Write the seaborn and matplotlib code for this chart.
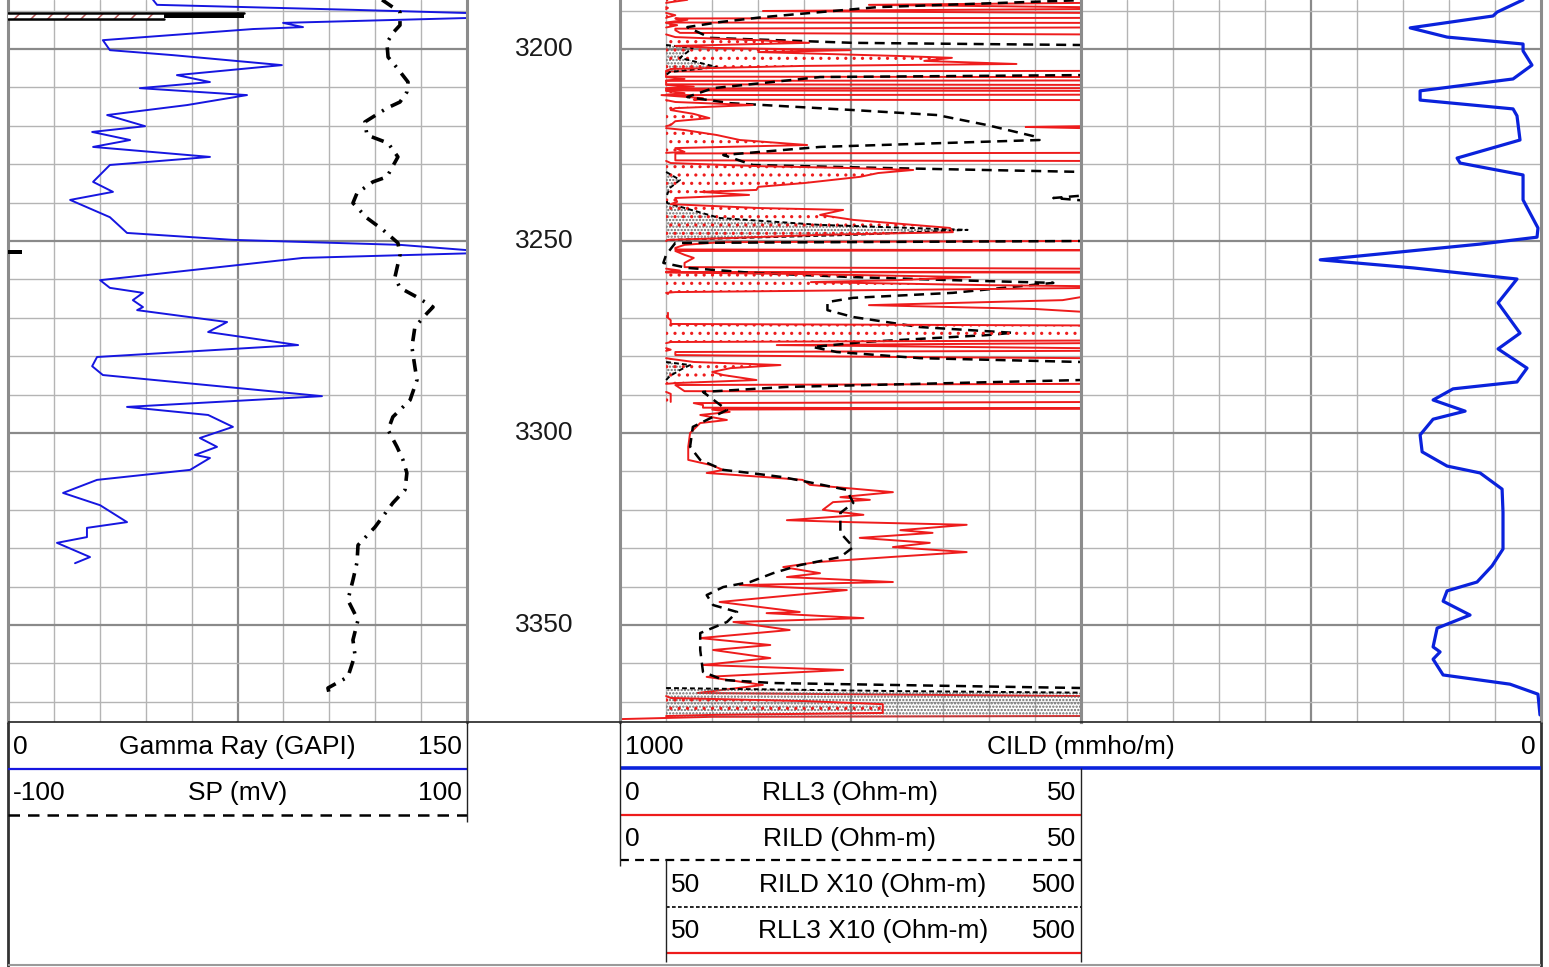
import numpy as np
import matplotlib
matplotlib.use("Agg")
import matplotlib.pyplot as plt
import seaborn as sns

# ---------------------------------------------------------------- log data
depth_labels = [3200, 3250, 3300, 3350]

gr_depth = [3187.2, 3188.5, 3189.8, 3191.3, 3193.2, 3194.3, 3194.8, 3197.7, 3200.3, 3201.6,
            3204.2, 3206.8, 3208.6, 3210.2, 3212.0, 3214.6, 3217.2, 3220.1, 3221.6, 3223.7,
            3225.5, 3228.1, 3230.2, 3234.6, 3237.2, 3239.3, 3243.8, 3247.9, 3249.7, 3251.0,
            3253.0, 3254.4, 3260.2, 3262.2, 3263.5, 3265.4, 3267.2, 3268.0, 3271.1, 3273.7,
            3277.1, 3280.2, 3282.6, 3284.9, 3290.4, 3293.2, 3295.3, 3298.4, 3301.3, 3303.6,
            3305.7, 3306.5, 3309.6, 3312.2, 3315.6, 3318.8, 3323.2, 3324.7, 3327.1, 3328.6,
            3332.3, 3333.9]
gr = [47.4, 48.7, 112.7, 180.0, 89.9, 96.4, 80.1, 31.0, 33.3, 53.9,
      89.5, 55.2, 66.0, 43.1, 78.1, 58.5, 32.4, 44.8, 27.5, 39.9,
      27.8, 66.0, 33.3, 27.8, 34.3, 20.3, 33.3, 38.9, 73.5, 128.1,
      160.0, 96.4, 30.1, 33.3, 44.1, 40.8, 44.1, 42.2, 71.6, 65.4,
      94.8, 29.1, 27.5, 31.0, 102.6, 38.9, 65.4, 73.5, 62.7, 68.3,
      61.1, 66.0, 59.5, 29.1, 18.0, 30.1, 38.9, 25.8, 25.8, 16.0,
      26.8, 21.9]

sp_depth = [3187.2, 3190.4, 3193.8, 3195.8, 3198.4, 3202.1, 3204.9, 3208.6, 3211.2, 3213.8,
            3215.4, 3219.0, 3222.4, 3224.5, 3228.1, 3233.3, 3234.6, 3237.5, 3240.1, 3244.0,
            3247.1, 3250.5, 3253.6, 3259.4, 3262.2, 3264.6, 3267.2, 3268.8, 3272.4, 3277.6,
            3282.8, 3286.2, 3291.4, 3295.8, 3299.2, 3303.6, 3307.0, 3310.4, 3314.8, 3318.2,
            3324.5, 3329.2, 3333.6, 3338.3, 3343.5, 3348.7, 3353.9, 3357.8, 3363.5, 3366.4,
            3367.7]
sp = [63.0, 70.8, 70.8, 67.7, 65.1, 65.6, 69.5, 74.3, 73.8, 70.8,
      65.1, 55.5, 56.4, 65.6, 69.9, 65.1, 59.0, 52.1, 50.3, 56.4,
      63.4, 69.9, 70.8, 68.6, 70.8, 78.2, 85.2, 82.6, 77.3, 76.0,
      77.3, 78.2, 75.2, 67.7, 65.6, 69.5, 72.1, 73.8, 73.0, 67.7,
      59.9, 52.5, 52.1, 50.3, 48.1, 52.5, 50.3, 51.2, 48.1, 39.4,
      39.9]

cild_depth = [3187.2, 3190.4, 3191.4, 3194.5, 3196.9, 3198.7, 3200.5, 3204.2, 3207.8, 3210.9,
              3213.3, 3215.6, 3217.4, 3223.7, 3228.4, 3229.7, 3232.8, 3237.5, 3239.3, 3246.6,
              3249.0, 3250.8, 3254.9, 3257.0, 3259.9, 3266.1, 3274.0, 3278.1, 3283.1, 3286.7,
              3288.5, 3291.4, 3294.3, 3296.4, 3300.5, 3304.9, 3308.6, 3310.4, 3314.6, 3320.6,
              3330.2, 3334.6, 3338.8, 3341.1, 3343.8, 3347.4, 3350.8, 3355.7, 3357.0, 3358.9,
              3363.0, 3365.4, 3368.0, 3373.4]
cild = [19.5, 47.8, 52.1, 142.2, 102.1, 19.5, 19.5, 9.8, 30.4, 131.4,
        131.4, 30.4, 26.1, 22.8, 91.2, 87.9, 19.5, 19.5, 19.5, 3.3,
        4.3, 66.2, 240.0, 139.0, 26.1, 46.7, 22.8, 46.7, 15.2, 26.1,
        95.6, 117.3, 82.5, 117.3, 131.4, 129.2, 102.1, 66.2, 42.3, 41.3,
        41.3, 53.2, 69.5, 102.1, 106.4, 77.1, 112.9, 117.3, 109.7, 117.3,
        106.4, 33.7, 3.3, 1.1]

rll3_depth = [3187.2, 3187.8, 3188.0, 3188.5, 3189.1, 3189.3, 3189.6, 3190.1, 3190.6, 3191.2,
              3191.7, 3191.9, 3192.05, 3192.4, 3193.1, 3193.2, 3193.8, 3194.4, 3194.7, 3195.1,
              3195.8, 3196.2, 3196.9, 3197.7, 3198.4, 3199.2, 3199.7, 3200.3, 3200.8, 3201.8,
              3202.3, 3203.1, 3203.9, 3204.4, 3205.2, 3205.7, 3205.85, 3207.2, 3207.3, 3207.8,
              3208.2, 3208.3, 3209.2, 3209.35, 3209.8, 3210.2, 3210.3, 3210.8, 3210.9, 3211.5,
              3211.9, 3212.0, 3212.8, 3213.2, 3213.3, 3213.8, 3214.6, 3215.4, 3215.9, 3216.9,
              3218.0, 3218.8, 3219.8, 3220.1, 3220.3, 3220.6, 3221.1, 3222.4, 3223.7, 3225.0,
              3225.8, 3226.8, 3227.05, 3227.2, 3229.0, 3229.15, 3229.7, 3230.5, 3231.0, 3231.5,
              3232.3, 3233.3, 3234.9, 3235.9, 3236.7, 3237.2, 3238.0, 3238.8, 3239.8, 3240.4,
              3241.4, 3241.9, 3243.2, 3244.5, 3246.6, 3247.7, 3248.4, 3249.2, 3249.7, 3250.0,
              3250.3, 3251.0, 3251.8, 3252.2, 3252.4, 3252.6, 3253.6, 3254.4, 3255.7, 3256.8,
              3257.2, 3257.7, 3258.0, 3258.1, 3258.2, 3258.6, 3259.4, 3260.2, 3260.7, 3261.5,
              3262.0, 3262.5, 3263.3, 3263.5, 3263.8, 3265.4, 3266.7, 3267.7, 3268.7, 3270.0,
              3270.6, 3271.6, 3272.0, 3273.9, 3275.9, 3276.3, 3276.6, 3277.1, 3277.9, 3278.3,
              3278.6, 3278.9, 3279.7, 3280.2, 3280.5, 3280.7, 3281.5, 3282.3, 3283.1, 3284.1,
              3284.9, 3286.2, 3287.0, 3287.2, 3287.5, 3289.1, 3289.3, 3289.8, 3291.9, 3292.2,
              3292.7, 3293.4, 3293.6, 3293.9, 3294.5, 3295.3, 3296.6, 3297.4, 3300.0, 3303.6,
              3307.0, 3308.3, 3309.6, 3310.4, 3311.5, 3312.2, 3313.5, 3315.4, 3316.7, 3317.4,
              3318.0, 3320.0, 3321.3, 3322.7, 3323.2, 3323.9, 3325.3, 3326.0, 3327.3, 3328.6,
              3329.7, 3331.0, 3332.3, 3333.6, 3334.9, 3336.5, 3337.5, 3338.8, 3339.6, 3340.9,
              3344.0, 3346.6, 3346.9, 3348.2, 3349.2, 3351.3, 3353.4, 3355.2, 3356.5, 3358.6,
              3360.4, 3361.7, 3363.5, 3365.6, 3367.7, 3368.5, 3369.0, 3369.8, 3370.6, 3372.9,
              3373.4, 3373.7, 3373.9, 3374.5]
rll3 = [73, 55, 50, 27, 50, 52, 50, 15.5, 50, 60,
        52, 50, 6, 7.3, 5, 50, 62, 50, 6, 6,
        6.5, 50, 60, 150, 205, 60, 100, 250, 150, 300,
        360, 330, 430, 200, 55, 50, 5, 5, 50, 70,
        50, 5, 5, 50, 80, 50, 5, 5, 50, 70,
        50, 4.5, 9, 8, 50, 60, 144, 60, 55, 80,
        97, 60, 55, 50, 44, 50, 70, 105, 130, 203,
        60, 70, 50, 6, 6, 50, 55, 150, 250, 318,
        280, 260, 200, 150, 148, 87, 140, 60, 62, 55,
        150, 242, 217, 253, 358, 361, 217, 123, 52, 50,
        11, 7, 6, 6, 52, 6, 7, 8, 7, 7,
        50, 65, 50, 6, 50, 200, 380, 300, 207, 400,
        600, 398, 60, 50, 52, 48, 27, 45, 52, 52,
        55, 55, 520, 600, 520, 55, 50, 17, 50, 55,
        50, 6, 6, 30, 50, 55, 80, 174, 120, 100,
        112, 148, 60, 50, 6, 7, 50, 55, 55, 8,
        9, 9, 50, 10, 11.9, 8.7, 11.6, 8.7, 7.6, 7.4,
        7.4, 9.8, 11.2, 9.4, 15.9, 19.8, 20.6, 29.6, 23.9, 27.1,
        23.1, 22.0, 26.4, 18.1, 24.9, 37.6, 30.4, 33.9, 26.0, 33.6,
        29.6, 37.6, 29.3, 21.4, 17.7, 21.7, 18.1, 29.6, 13.0, 24.6,
        10.8, 19.5, 15.9, 26.4, 12.3, 18.4, 8.7, 16.3, 10.1, 16.3,
        9.0, 24.2, 9.4, 15.5, 8.4, 50, 55, 200, 285, 285,
        100, 50, 10, 0]

rild_depth = [3187.2, 3189.1, 3190.4, 3191.7, 3193.0, 3194.3, 3197.1, 3198.4, 3198.96, 3199.7,
              3202.3, 3204.7, 3206.0, 3206.8, 3207.3, 3210.2, 3212.5, 3214.1, 3215.9, 3217.2,
              3219.8, 3222.9, 3223.7, 3225.5, 3227.6, 3230.2, 3231.0, 3232.0, 3234.1, 3236.2,
              3238.0, 3238.8, 3239.6, 3240.1, 3244.0, 3245.8, 3247.1, 3248.4, 3249.7, 3250.0,
              3250.5, 3253.6, 3255.7, 3257.0, 3258.3, 3259.4, 3260.2, 3260.9, 3263.5, 3264.8,
              3265.9, 3268.0, 3269.8, 3272.4, 3273.9, 3274.5, 3276.3, 3277.6, 3278.9, 3280.5,
              3281.5, 3282.3, 3283.6, 3285.2, 3286.2, 3288.0, 3289.3, 3294.0, 3298.4, 3303.6,
              3307.0, 3309.6, 3310.4, 3311.5, 3313.0, 3314.8, 3318.2, 3320.8, 3326.0, 3329.7,
              3332.3, 3334.4, 3336.5, 3338.8, 3340.1, 3342.2, 3344.8, 3346.6, 3349.2, 3352.1,
              3356.5, 3362.2, 3364.3, 3365.1, 3366.4, 3367.2, 3367.7, 3373.9]
rild = [51, 27.9, 21.7, 15.5, 10.8, 7.3, 9.8, 25.3, 50, 79,
        65, 105, 54, 50, 21.7, 10.1, 7.3, 11.9, 25.3, 34.4,
        39.8, 45.2, 45.5, 21.7, 11.2, 14.4, 29.0, 50, 65, 54,
        51, 47, 51, 51, 108, 217, 377, 253, 54, 50,
        6, 5, 4.7, 7.3, 14.4, 25.3, 36.1, 47.0, 36.1, 25.3,
        22.5, 22.5, 25.3, 32.5, 42.6, 39.8, 26.4, 20.9, 23.5, 32.5,
        50, 76, 65, 54, 50, 18.1, 9.0, 11.6, 7.9, 7.6,
        8.7, 11.2, 14.1, 17.7, 20.9, 24.6, 25.3, 23.9, 23.9, 25.3,
        23.9, 19.5, 16.6, 14.1, 11.2, 9.4, 10.1, 12.7, 11.6, 8.7,
        8.7, 9.0, 11.2, 16.6, 50, 300, 550, 600]

# flagged intervals shown in the gamma-ray track
flag_depth = [3190.5, 3192.3]
flag_gr = [0, 51]
flag_bar_depth = [3190.5, 3191.8]
flag_bar_gr = [51, 77]
tick_depth = [3252.4, 3253.5]
tick_gr = [0, 4.5]

# ---------------------------------------------------------------- styling
sns.set_theme(style="white")
plt.rcParams['font.family'] = ['Liberation Sans', 'DejaVu Sans']
plt.rcParams['hatch.linewidth'] = 1.1

W, H = 1549, 967
fig = plt.figure(figsize=(W / 100, H / 100), dpi=100)
fig.patch.set_facecolor('white')

TRACK_BOTTOM_PX = 722
ax_b = 1 - TRACK_BOTTOM_PX / H
ax_h = TRACK_BOTTOM_PX / H
DEPTH_TOP, DEPTH_BASE = 3187.24, 3375.25

BLUE = '#1616e0'
RED = '#ee1c1c'
GRID_MINOR = '#b4b4b4'
GRID_MAJOR = '#8a8a8a'
BORDER = '#8c8c8c'


def style_track(ax, lo, hi):
    ax.set_xlim(lo, hi)
    ax.set_ylim(DEPTH_BASE, DEPTH_TOP)
    step = (hi - lo) / 10
    ax.set_xticks([lo + 5 * step])
    ax.set_xticks([lo + step * k for k in range(1, 10) if k != 5], minor=True)
    ax.set_yticks(depth_labels)
    ax.set_yticks(range(3190, 3376, 10), minor=True)
    ax.grid(which='minor', color=GRID_MINOR, lw=1.0)
    ax.grid(which='major', color=GRID_MAJOR, lw=1.6)
    ax.tick_params(which='both', length=0, labelbottom=False, labelleft=False,
                   labeltop=False, labelright=False)
    ax.spines['top'].set_visible(False)
    ax.spines['bottom'].set_visible(False)
    for s in ('left', 'right'):
        ax.spines[s].set_color(BORDER)
        ax.spines[s].set_linewidth(2.2)
    ax.set_axisbelow(True)
    ax.set_facecolor('white')


def bare_twin(ax, lo, hi):
    tw = ax.twiny()
    tw.set_xlim(lo, hi)
    tw.set_ylim(DEPTH_BASE, DEPTH_TOP)
    tw.tick_params(which='both', length=0, labeltop=False, labelbottom=False)
    tw.grid(False)
    for s in tw.spines.values():
        s.set_visible(False)
    return tw


def clear_labels(*axes):
    for a in axes:
        a.set_xlabel('')
        a.set_ylabel('')


# ---------------------------------------------------------------- track 1: GR + SP
ax1 = fig.add_axes([8 / W, ax_b, 459 / W, ax_h])
style_track(ax1, 0, 150)
ax1.fill_betweenx(flag_depth, flag_gr[0], flag_gr[1], facecolor='white',
                  edgecolor='#b85a5a', hatch='//', lw=0, zorder=3)
ax1.plot([flag_gr[0], flag_bar_gr[1]], [flag_depth[0]] * 2, color='black', lw=1.8, zorder=4)
ax1.plot(flag_gr, [flag_depth[1]] * 2, color='black', lw=1.8, zorder=4)
ax1.fill_betweenx(flag_bar_depth, flag_bar_gr[0], flag_bar_gr[1], color='black', lw=0, zorder=4)
ax1.fill_betweenx(tick_depth, tick_gr[0], tick_gr[1], color='black', lw=0, zorder=4)
sns.lineplot(x=gr, y=gr_depth, orient='y', sort=False, estimator=None, ax=ax1,
             color=BLUE, linewidth=1.4, legend=False)

ax1b = bare_twin(ax1, -100, 100)
sns.lineplot(x=sp, y=sp_depth, orient='y', sort=False, estimator=None, ax=ax1b,
             color='black', linewidth=2.6, linestyle=(0, (3.5, 2.2, 0.6, 2.2)), legend=False)
clear_labels(ax1, ax1b)
ax1.set_xlim(0, 150)
ax1b.set_xlim(-100, 100)
ax1.set_ylim(DEPTH_BASE, DEPTH_TOP)

# ---------------------------------------------------------------- depth track
FS = 19

axd = fig.add_axes([467 / W, ax_b, 153 / W, ax_h])
axd.set_xlim(0, 1)
axd.set_ylim(DEPTH_BASE, DEPTH_TOP)
axd.axis('off')
for d in depth_labels:
    axd.text(0.505, d, f'{d}', ha='center', va='center', fontsize=FS, color='#1a1a1a')

# ---------------------------------------------------------------- track 2: resistivity
ax2 = fig.add_axes([620 / W, ax_b, 461 / W, ax_h])
style_track(ax2, 0, 50)
rll3_arr = np.array(rll3, dtype=float)
rild_arr = np.array(rild, dtype=float)

# backup (x10) scale shares the track: 0-500
ax2b = bare_twin(ax2, 0, 500)
ax2b.fill_betweenx(rild_depth, 50, rild_arr, where=rild_arr >= 50, interpolate=True,
                   facecolor='none', edgecolor='#6a6a6a', hatch='.....', lw=0, zorder=1)
ax2b.fill_betweenx(rll3_depth, 50, rll3_arr, where=rll3_arr >= 50, interpolate=True,
                   facecolor='none', edgecolor=RED, hatch='..', lw=0, zorder=1)
ax2b.plot(np.where(rild_arr >= 50, rild_arr, np.nan), rild_depth, color='black',
          lw=1.4, linestyle=(0, (2.5, 1.6)), zorder=3)
ax2b.plot(np.where(rll3_arr >= 50, rll3_arr, np.nan), rll3_depth, color=RED,
          lw=1.4, zorder=3)

sns.lineplot(x=rll3, y=rll3_depth, orient='y', sort=False, estimator=None, ax=ax2,
             color=RED, linewidth=1.4, legend=False)
sns.lineplot(x=rild, y=rild_depth, orient='y', sort=False, estimator=None, ax=ax2,
             color='black', linewidth=1.8, linestyle=(0, (4.0, 2.6)), legend=False)
clear_labels(ax2, ax2b)
ax2.set_xlim(0, 50)
ax2b.set_xlim(0, 500)
ax2.set_ylim(DEPTH_BASE, DEPTH_TOP)

# ---------------------------------------------------------------- track 3: conductivity
ax3 = fig.add_axes([1081 / W, ax_b, 460 / W, ax_h])
style_track(ax3, 500, 0)
sns.lineplot(x=cild, y=cild_depth, orient='y', sort=False, estimator=None, ax=ax3,
             color='#0a22dc', linewidth=2.3, legend=False)
clear_labels(ax3)
ax3.set_xlim(500, 0)
ax3.set_ylim(DEPTH_BASE, DEPTH_TOP)

# ---------------------------------------------------------------- header (curve legends)
axo = fig.add_axes([0, 0, 1, 1])
axo.set_xlim(0, W)
axo.set_ylim(H, 0)
axo.axis('off')
axo.patch.set_alpha(0)


def row(x0, x1, y, left, mid, right, mid_x=None):
    axo.text(x0 + 5, y, left, ha='left', va='center', fontsize=FS, color='black')
    axo.text(mid_x if mid_x is not None else (x0 + x1) / 2, y, mid, ha='center',
             va='center', fontsize=FS, color='black')
    axo.text(x1 - 5, y, right, ha='right', va='center', fontsize=FS, color='black')


def seg(xs, ys, **kw):
    axo.plot(xs, ys, solid_capstyle='butt', dash_capstyle='butt', **kw)


# frame lines
seg([8, 1541], [722, 722], color='#222222', lw=1.2)
seg([8, 8], [722, 967], color='#333333', lw=2.0)
seg([1541, 1541], [722, 967], color='#333333', lw=2.0)
seg([8, 1541], [965, 965], color='#9a9a9a', lw=1.5)

# gamma ray / SP
row(8, 467, 747, '0', 'Gamma Ray (GAPI)', '150')
seg([8, 467], [769, 769], color=BLUE, lw=1.6)
row(8, 467, 793, '-100', 'SP (mV)', '100')
seg([8, 467], [815, 815], color='black', lw=1.8, linestyle=(0, (4.6, 3.2)))
seg([467, 467], [722, 822], color='#222222', lw=1.0)

# conductivity / resistivity
row(620, 1541, 747, '1000', 'CILD (mmho/m)', '0', mid_x=1081)
seg([620, 1541], [768, 768], color='#0a22dc', lw=2.6)
row(620, 1081, 793, '0', 'RLL3 (Ohm-m)', '50', mid_x=850)
seg([620, 1081], [815, 815], color=RED, lw=1.6)
row(620, 1081, 839, '0', 'RILD (Ohm-m)', '50', mid_x=850)
seg([620, 1081], [860, 860], color='black', lw=1.6, linestyle=(0, (4.0, 2.8)))
row(666, 1081, 885, '50', 'RILD X10 (Ohm-m)', '500', mid_x=873)
seg([666, 1081], [907, 907], color='black', lw=1.2, linestyle=(0, (2.2, 1.4)))
row(666, 1081, 931, '50', 'RLL3 X10 (Ohm-m)', '500', mid_x=873)
seg([666, 1081], [953, 953], color=RED, lw=1.6)
seg([620, 620], [722, 866], color='#222222', lw=1.0)
seg([666, 666], [860, 962], color='#222222', lw=1.0)
seg([1081, 1081], [768, 962], color='#222222', lw=1.0)

fig.savefig('out.png', dpi=100, facecolor='white')
